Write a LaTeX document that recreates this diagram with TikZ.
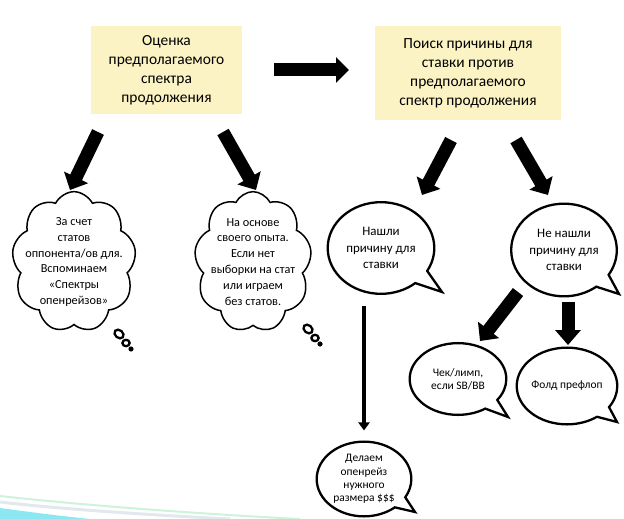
\documentclass[tikz,border=0pt]{standalone}
\usepackage{fontspec}
\setmainfont{Carlito}
\usetikzlibrary{arrows.meta,calc,shapes.symbols,shapes.callouts}

\begin{document}
\begin{tikzpicture}[x=1bp, y=1bp,
  box/.style={fill=boxfill, align=center, inner sep=0pt, font=\fontsize{15.5}{19}\selectfont},
  fat/.style={line width=13bp, draw=black, -{Triangle[length=14bp, width=26bp]}},
  thin/.style={line width=3.2bp, draw=black, -{Triangle[length=8bp, width=11bp]}},
  thought/.style={cloud, cloud puffs=9, cloud puff arc=120, draw=black, line width=1.5bp, inner sep=0pt,
    xscale=0.98, yscale=1.07, transform shape},
  ctext/.style={align=center, inner sep=0pt, font=\fontsize{12.3}{16}\selectfont},
  speech/.style={ellipse callout, draw=black, line width=2.3bp, align=center, inner sep=0pt, callout pointer arc=20},
  big/.style={font=\fontsize{13}{16.5}\selectfont},
  small/.style={font=\fontsize{11.5}{13.5}\selectfont},
  dots/.style={draw=black, line width=2.3bp}]
\definecolor{boxfill}{RGB}{252,243,196}
\definecolor{swcyan}{RGB}{140,232,240}\definecolor{swgreen}{RGB}{205,243,220}\definecolor{swgray}{RGB}{225,232,238}
\useasboundingbox (0,0) rectangle (624,-519);
\fill[white] (0,0) rectangle (624,-519);
% theme swoosh, lower left
\fill[swcyan] (0,-508) .. controls (30,-512) and (60,-516) .. (90,-519) -- (0,-519) -- cycle;
\draw[swgreen, line width=2bp] (0,-496) .. controls (80,-505) and (200,-514) .. (300,-519);
\draw[swgray, line width=3bp] (0,-502) .. controls (60,-509) and (150,-515) .. (230,-519);
% ---- top boxes
\node[box, minimum width=151, minimum height=88] (est) at (166.5,-70) {Оценка\\предполагаемого\\спектра\\продолжения};
\node[box, minimum width=187, minimum height=94] (search) at (468,-73) {Поиск причины для\\ставки против\\предполагаемого\\спектр продолжения};
\draw[fat, -{Triangle[length=13bp, width=25bp]}] ($(est)+(107.5,0)$) -- ($(search)+(-119,3)$);
% ---- clouds
\node[thought, minimum width=127, minimum height=132] (statA) at (74,-262) {};
\node[ctext] at (statA) {За счет\\статов\\оппонента/ов для.\\Вспоминаем\\«Спектры\\опенрейзов»};
\node[thought, minimum width=120, minimum height=132] (statB) at (253,-262) {};
\node[ctext] at (statB) {На основе\\своего опыта.\\Если нет\\выборки на стат\\или играем\\без статов.};
\draw[fat] ($(est)+(-68.5,-62)$) -- ($(statA)+(-4,72)$);
\draw[fat] ($(est)+(56.5,-62)$) -- ($(statB)+(3,72)$);
\draw[dots, rotate around={-40:(119,-334)}] (119,-334) ellipse (5 and 3.8);
\draw[dots] (126,-343) ellipse (3.6 and 3.2);
\fill (131,-349) circle (2.6);
\draw[dots, rotate around={-40:(308,-329)}] (308,-329) ellipse (5 and 3.8);
\draw[dots] (315,-338) ellipse (3.6 and 3.2);
\fill (320,-344) circle (2.6);
% ---- speech bubbles
\node[speech, big, minimum width=107, minimum height=92, callout absolute pointer={(442,-292)}] (found) at (381,-248) {Нашли\\причину для\\ставки};
\node[speech, big, minimum width=106, minimum height=93, callout absolute pointer={(619,-294)}] (notfound) at (564,-250) {Не нашли\\причину для\\ставки};
\draw[fat] ($(search)+(-17,-67)$) -- ($(found)+(41,53)$);
\draw[fat] ($(search)+(48,-67)$) -- ($(notfound)+(-16,55)$);
\node[speech, small, minimum width=97, minimum height=72, callout absolute pointer={(508,-417)}] (check) at (458,-379) {Чек/лимп,\\если SB/BB};
\node[speech, small, minimum width=98, minimum height=77, callout absolute pointer={(617,-422)}] (fold) at (567,-386) {Фолд префлоп};
\draw[fat] ($(notfound)+(-46,-42)$) -- ($(check)+(22,38)$);
\draw[fat, -{Triangle[length=15bp, width=25bp]}] ($(notfound)+(4,-52)$) -- ($(fold)+(1,41)$);
\node[speech, small, minimum width=95, minimum height=75, callout absolute pointer={(415,-512)}] (make) at (364,-479) {Делаем\\опенрейз\\нужного\\размера \$\$\$};
\draw[thin, shorten <=11bp, shorten >=10bp] (found.south -| make.north) -- (make.north);
\end{tikzpicture}
\end{document}
